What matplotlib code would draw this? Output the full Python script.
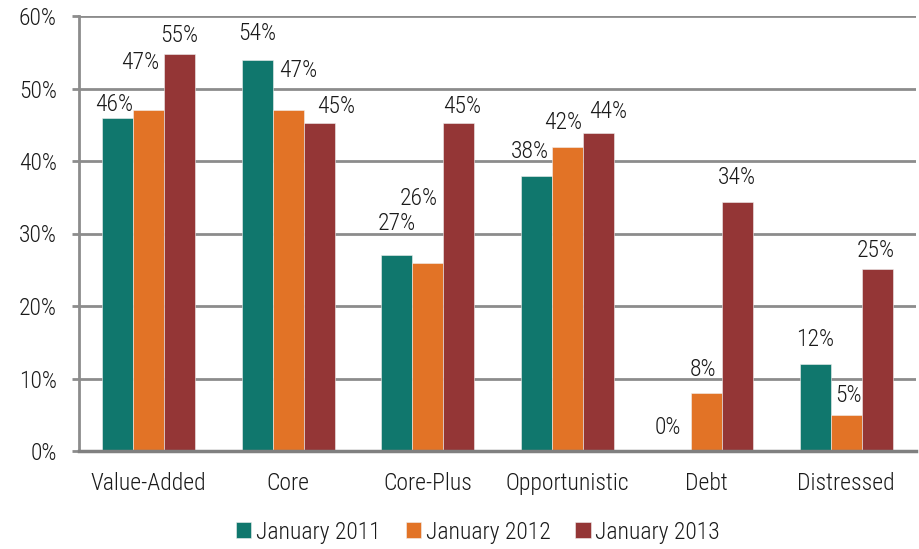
import matplotlib
matplotlib.use("Agg")
import matplotlib.pyplot as plt
from matplotlib import font_manager
import numpy as np

# condensed face like the source (Arial Narrow); fall back to Arial metrics
installed = {f.name for f in font_manager.fontManager.ttflist}
narrow = [n for n in ["Liberation Sans Narrow", "Arial Narrow", "Roboto Condensed",
                      "Open Sans Condensed", "Noto Sans Condensed"] if n in installed]
if narrow:
    plt.rcParams['font.family'] = [narrow[0], 'DejaVu Sans']
    plt.rcParams['font.weight'] = 'light'
    fs = 17
else:
    plt.rcParams['font.family'] = ['Liberation Sans', 'DejaVu Sans']
    fs = 14

categories = ["Value-Added", "Core", "Core-Plus", "Opportunistic", "Debt", "Distressed"]
series_names = ["January 2011", "January 2012", "January 2013"]
jan_2011 = [46, 54, 27, 38, 0, 12]
jan_2012 = [47, 47, 26, 42, 8, 5]
jan_2013 = [54.7, 45.3, 45.3, 43.8, 34.4, 25.1]
y_ticks = [0, 10, 20, 30, 40, 50, 60]

colors = ["#10776d", "#e27326", "#943636"]
# label offsets (pixels, relative to top centre of each bar) - hand placed like the source
label_offsets = [
    [(-4, 13), (-9, 48), (0, 19)],
    [(0, 26), (10, 40), (17, 16)],
    [(0, 32), (-9, 64), (3, 16)],
    [(-6, 24), (-4, 24), (10, 22)],
    [(-8, 23), (-4, 24), (-1, 24)],
    [(0, 24), (2, 19), (-1, 19)],
]

fig = plt.figure(figsize=(9.19, 5.49), dpi=100)
ax = fig.add_axes([79 / 919, 98 / 549, 837 / 919, 435 / 549])

x = np.arange(len(categories))
width = 0.222
all_series = [jan_2011, jan_2012, jan_2013]
for i, (vals, name, col) in enumerate(zip(all_series, series_names, colors)):
    pos = x + (i - 1) * width
    ax.bar(pos, vals, width, color=col, label=name, edgecolor="#f0f0f0",
           linewidth=0.4, zorder=3)
    for j, v in enumerate(vals):
        dx, dy = label_offsets[j][i]
        ax.annotate(f"{round(v):d}%", (pos[j], v), xytext=(dx, dy),
                    textcoords="offset pixels", ha="center", va="center",
                    fontsize=fs, color="#1a1a1a", zorder=4)

ax.set_xlim(-0.5, len(categories) - 0.5)
ax.set_ylim(0, 60)
ax.set_yticks(y_ticks)
ax.set_yticklabels([f"{t}%" for t in y_ticks])
ax.set_xticks(x)
ax.set_xticklabels(categories)

ax.yaxis.grid(True, color="#8c8c8c", linewidth=2, zorder=0)
ax.set_axisbelow(True)
for side in ["top", "right"]:
    ax.spines[side].set_visible(False)
ax.spines["left"].set_color("#8c8c8c")
ax.spines["left"].set_linewidth(2)
ax.spines["bottom"].set_color("#808080")
ax.spines["bottom"].set_linewidth(2.5)
ax.spines["bottom"].set_zorder(5)

ax.tick_params(axis="y", length=5, width=2, color="#8c8c8c", pad=11,
               labelsize=fs, labelcolor="#1a1a1a")
ax.tick_params(axis="x", length=0, pad=15, labelsize=fs, labelcolor="#1a1a1a")

fig.legend(loc="center", bbox_to_anchor=(478 / 919, 1 - 532 / 549), ncol=3,
           frameon=False, fontsize=fs, handlelength=0.65, handleheight=0.65,
           handletextpad=0.2, columnspacing=1.05, labelcolor="#1a1a1a")

fig.savefig("out.png", dpi=100)
